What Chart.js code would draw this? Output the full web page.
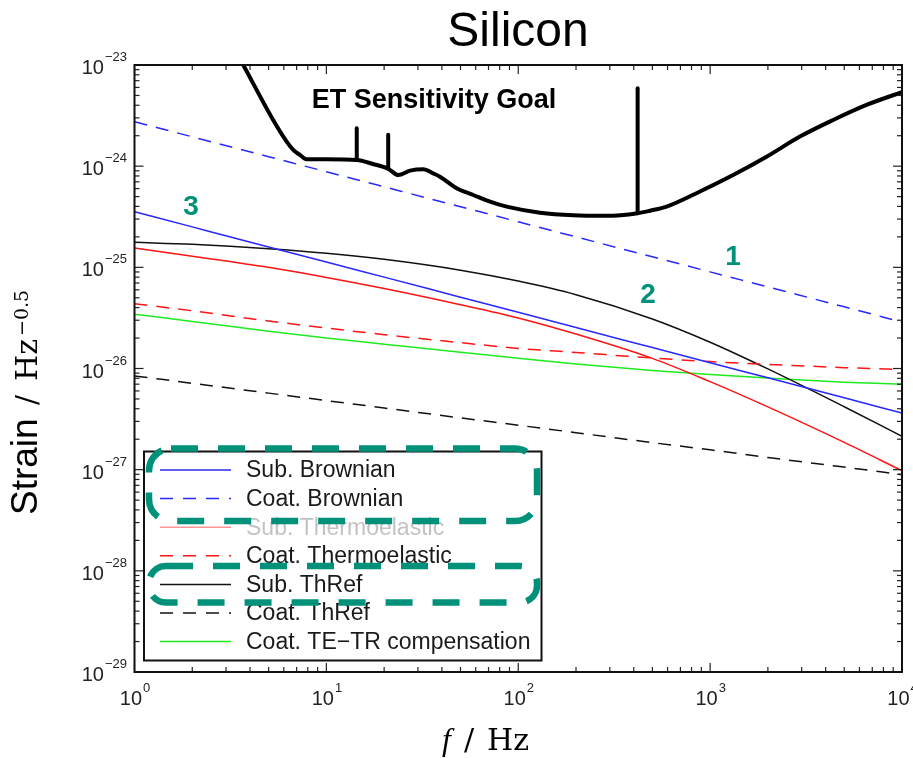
<!DOCTYPE html>
<html><head><meta charset="utf-8">
<script src="https://cdn.jsdelivr.net/npm/chart.js@4.4.1/dist/chart.umd.min.js"></script>
<style>html,body{margin:0;padding:0;background:#fff}canvas{display:block}</style>
</head><body>
<canvas id="c" width="913" height="758"></canvas>
<script>
// ---------- data ----------
const freq = [1, 2, 5, 10, 20, 50, 100, 200, 500, 1000, 2000, 5000, 10000];
const subBrownian  = [3.55e-25, 2.51e-25, 1.59e-25, 1.13e-25, 8.0e-26, 5.07e-26, 3.59e-26, 2.54e-26, 1.61e-26, 1.14e-26, 8.09e-27, 5.13e-27, 3.63e-27];
const coatBrownian = [2.75e-24, 1.95e-24, 1.24e-24, 8.81e-25, 6.25e-25, 3.97e-25, 2.82e-25, 2.0e-25, 1.27e-25, 9.02e-26, 6.40e-26, 4.07e-26, 2.88e-26];
const subTE        = [1.55e-25, 1.29e-25, 1.0e-25, 7.94e-26, 6.17e-26, 4.27e-26, 3.16e-26, 2.19e-26, 1.26e-26, 7.41e-27, 4.17e-27, 1.86e-27, 9.77e-28];
const coatTE       = [4.37e-26, 3.72e-26, 2.95e-26, 2.51e-26, 2.16e-26, 1.80e-26, 1.58e-26, 1.44e-26, 1.27e-26, 1.17e-26, 1.10e-26, 1.02e-26, 9.77e-27];
const subThRef     = [1.77e-25, 1.69e-25, 1.53e-25, 1.38e-25, 1.20e-25, 9.37e-26, 7.31e-26, 5.36e-26, 3.09e-26, 1.82e-26, 9.91e-27, 4.19e-27, 2.14e-27];
const coatThRef    = [8.45e-27, 7.14e-27, 5.71e-27, 4.82e-27, 4.07e-27, 3.25e-27, 2.75e-27, 2.32e-27, 1.85e-27, 1.57e-27, 1.32e-27, 1.06e-27, 8.93e-28];
const coatTETR     = [3.44e-26, 2.92e-26, 2.34e-26, 2.0e-26, 1.74e-26, 1.45e-26, 1.26e-26, 1.11e-26, 9.55e-27, 8.71e-27, 8.04e-27, 7.33e-27, 7.0e-27];

const etFreq  = [3.2, 3.69, 5.28, 6.21, 6.72, 7.28, 7.89, 10, 14.4, 17.5, 21, 23.7, 27.3, 32, 36, 39.1, 47.7, 58.3, 71.3, 87, 130, 194, 289, 419, 486, 593, 885, 1318, 1968, 2938, 4375, 6531, 10000];
const etGoal  = [1.64e-23, 1.0e-23, 2.86e-24, 1.75e-24, 1.45e-24, 1.29e-24, 1.17e-24, 1.17e-24, 1.15e-24, 1.05e-24, 9.44e-25, 8.18e-25, 9.04e-25, 9.33e-25, 8.5e-25, 7.87e-25, 6.05e-25, 5.19e-25, 4.46e-25, 3.98e-25, 3.47e-25, 3.27e-25, 3.23e-25, 3.43e-25, 3.63e-25, 3.98e-25, 5.62e-25, 8.18e-25, 1.24e-24, 1.96e-24, 2.86e-24, 4.03e-24, 5.4e-24];
const spikeFreq = [14.4, 21.0, 419];
const spikeBase = [1.15e-24, 9.44e-25, 3.43e-25];
const spikeTop  = [2.37e-24, 2.04e-24, 5.89e-24];

const legendLabels = ['Sub. Brownian', 'Coat. Brownian', 'Sub. Thermoelastic', 'Coat. Thermoelastic', 'Sub. ThRef', 'Coat. ThRef', 'Coat. TE\u2212TR compensation'];
const xTickExp = [0, 1, 2, 3, 4];
const yTickExp = [-29, -28, -27, -26, -25, -24, -23];
const titleText = 'Silicon';
const etLabel = 'ET Sensitivity Goal';
const curveNumbers = [{t: '1', f: 1315, v: 1.27e-25}, {t: '2', f: 474, v: 5.33e-26}, {t: '3', f: 1.97, v: 3.95e-25}];

// ---------- styles ----------
const BLUE = 'rgb(40,40,255)', RED = 'rgb(255,20,20)', GREEN = 'rgb(30,235,30)', BLACK = '#111';
const TEAL = '#00917a';
const DASH = [13, 9];

function pts(xs, ys) { return xs.map((x, i) => ({x: x, y: ys[i]})); }
function mk(label, arr, color, dash) {
  return {label: label, data: pts(freq, arr), borderColor: color, borderWidth: 1.5, borderDash: dash || [],
          pointRadius: 0, fill: false, cubicInterpolationMode: 'monotone', inLegend: true};
}
const datasets = [
  mk(legendLabels[0], subBrownian, BLUE),
  mk(legendLabels[1], coatBrownian, BLUE, DASH),
  mk(legendLabels[2], subTE, RED),
  mk(legendLabels[3], coatTE, RED, DASH),
  mk(legendLabels[4], subThRef, BLACK),
  mk(legendLabels[5], coatThRef, BLACK, DASH),
  mk(legendLabels[6], coatTETR, GREEN),
  {label: 'ET', data: pts(etFreq, etGoal), borderColor: '#000', borderWidth: 4, pointRadius: 0, fill: false,
   cubicInterpolationMode: 'monotone', borderJoinStyle: 'round', borderCapStyle: 'round', inLegend: false}
];
spikeFreq.forEach((f, i) => {
  datasets.push({label: 'spike', data: [{x: f, y: spikeBase[i]}, {x: f, y: spikeTop[i]}], borderColor: '#000',
    borderWidth: 4, pointRadius: 0, fill: false, borderCapStyle: 'round', inLegend: false});
});

function line(ctx, x1, y1, x2, y2) { ctx.beginPath(); ctx.moveTo(x1, y1); ctx.lineTo(x2, y2); ctx.stroke(); }
function rrect(ctx, x, y, w, h, r) {
  ctx.beginPath();
  ctx.moveTo(x + r, y); ctx.lineTo(x + w - r, y); ctx.arcTo(x + w, y, x + w, y + r, r);
  ctx.lineTo(x + w, y + h - r); ctx.arcTo(x + w, y + h, x + w - r, y + h, r);
  ctx.lineTo(x + r, y + h); ctx.arcTo(x, y + h, x, y + h - r, r);
  ctx.lineTo(x, y + r); ctx.arcTo(x, y, x + r, y, r); ctx.closePath();
}
const SANS = '"Liberation Sans", Arial, Helvetica, sans-serif';
const SERIF = '"DejaVu Serif", serif';

const deco = {
  id: 'deco',
  beforeDraw(chart) {
    const ctx = chart.ctx; ctx.save(); ctx.fillStyle = '#fff'; ctx.fillRect(0, 0, chart.width, chart.height); ctx.restore();
  },
  afterDatasetsDraw(chart) {
    const ctx = chart.ctx, xs = chart.scales.x, ys = chart.scales.y;
    const {left, right, top, bottom} = chart.chartArea;
    ctx.save();
    // ticks
    ctx.strokeStyle = '#222'; ctx.lineWidth = 1.2;
    for (let d = 0; d <= 4; d++) for (let m = 1; m <= 9; m++) {
      const v = m * Math.pow(10, d); if (v > 10000.5) break;
      const px = xs.getPixelForValue(v), len = m === 1 ? 9 : 5;
      line(ctx, px, bottom, px, bottom - len); line(ctx, px, top, px, top + len);
    }
    for (let e = -29; e <= -23; e++) for (let m = 1; m <= 9; m++) {
      const v = m * Math.pow(10, e); if (v > 1.0001e-23) break;
      const py = ys.getPixelForValue(v), len = m === 1 ? 9 : 5;
      line(ctx, left, py, left + len, py); line(ctx, right, py, right - len, py);
    }
    // frame
    ctx.strokeStyle = '#111'; ctx.lineWidth = 2;
    ctx.strokeRect(left, top, right - left, bottom - top);
    // tick labels
    ctx.fillStyle = '#222'; ctx.textBaseline = 'alphabetic'; ctx.textAlign = 'left';
    xTickExp.forEach(e => {
      const px = xs.getPixelForValue(Math.pow(10, e));
      ctx.font = '20px ' + SANS; const w1 = ctx.measureText('10').width;
      ctx.font = '13px ' + SANS; const es = String(e).replace('-', '\u2212'); const w2 = ctx.measureText(es).width;
      const x0 = px - (w1 + w2) / 2;
      ctx.font = '20px ' + SANS; ctx.fillText('10', x0, 705);
      ctx.font = '13px ' + SANS; ctx.fillText(es, x0 + w1 + 1, 692);
    });
    yTickExp.forEach(e => {
      const py = ys.getPixelForValue(Math.pow(10, e));
      const es = String(e).replace('-', '\u2212');
      ctx.font = '13px ' + SANS; const w2 = ctx.measureText(es).width;
      ctx.font = '20px ' + SANS; const w1 = ctx.measureText('10').width;
      const xr = 127;
      ctx.fillText('10', xr - w2 - w1 - 1, py + 9);
      ctx.font = '13px ' + SANS; ctx.fillText(es, xr - w2, py - 4);
    });
    // axis titles
    ctx.fillStyle = '#000';
    ctx.save(); ctx.translate(37, 515); ctx.rotate(-Math.PI / 2);
    ctx.font = '37px ' + SANS; ctx.fillText('Strain', 0, 0);
    ctx.font = '30px ' + SERIF; ctx.fillText('/', 110, 0);
    ctx.fillText('Hz', 134, 0); const hzw = ctx.measureText('Hz').width;
    ctx.font = '19px ' + SERIF; ctx.fillText('\u22120.5', 134 + hzw + 3, -9);
    ctx.restore();
    ctx.font = 'italic 32px "Liberation Serif", serif'; ctx.fillText('f', 442, 750);
    ctx.font = '30px ' + SERIF; ctx.fillText('/', 464, 750); ctx.fillText('Hz', 487, 750);
    // title
    ctx.textAlign = 'center'; ctx.font = '48px ' + SANS; ctx.fillText(titleText, 518, 46);
    // ET label
    ctx.font = 'bold 27px ' + SANS; ctx.fillText(etLabel, 434, 108);
    // curve numbers
    ctx.fillStyle = TEAL; ctx.font = 'bold 28px ' + SANS; ctx.textBaseline = 'middle';
    curveNumbers.forEach(n => ctx.fillText(n.t, xs.getPixelForValue(n.f), ys.getPixelForValue(n.v)));
    // legend
    ctx.textAlign = 'left';
    ctx.fillStyle = '#fff'; ctx.fillRect(144, 451.5, 397.5, 209);
    ctx.strokeStyle = '#111'; ctx.lineWidth = 2; ctx.strokeRect(144, 451.5, 397.5, 209);
    const legendSets = chart.data.datasets.filter(d => d.inLegend);
    legendSets.forEach((d, i) => {
      const yy = 470 + i * 28.6;
      ctx.strokeStyle = d.borderColor; ctx.lineWidth = 1.5; ctx.setLineDash(d.borderDash.length ? [13, 10] : []);
      if (i === 2) ctx.globalAlpha = 0.45;
      line(ctx, 160, yy, 231, yy); ctx.setLineDash([]);
      ctx.fillStyle = i === 2 ? '#777' : '#1a1a1a'; ctx.font = '23px ' + SANS; ctx.textBaseline = 'middle';
      ctx.fillText(d.label, 246, yy + 1);
      ctx.globalAlpha = 1;
    });
    // highlight boxes
    ctx.strokeStyle = TEAL; ctx.lineWidth = 6.5; ctx.setLineDash([27, 20]); ctx.lineCap = 'butt';
    rrect(ctx, 149, 448.5, 388, 72.5, 22); ctx.stroke();
    rrect(ctx, 149, 566, 388, 36.5, 17); ctx.stroke();
    ctx.setLineDash([]);
    ctx.restore();
  }
};

new Chart(document.getElementById('c'), {
  type: 'line',
  data: {datasets: datasets},
  options: {
    responsive: false, animation: false, events: [],
    layout: {padding: {left: 134.5, right: 11, top: 65, bottom: 86}},
    plugins: {legend: {display: false}, title: {display: false}, tooltip: {enabled: false}},
    scales: {
      x: {type: 'logarithmic', min: 1, max: 10000, display: false},
      y: {type: 'logarithmic', min: 1e-29, max: 1e-23, display: false}
    }
  },
  plugins: [deco]
});
</script>
</body></html>
